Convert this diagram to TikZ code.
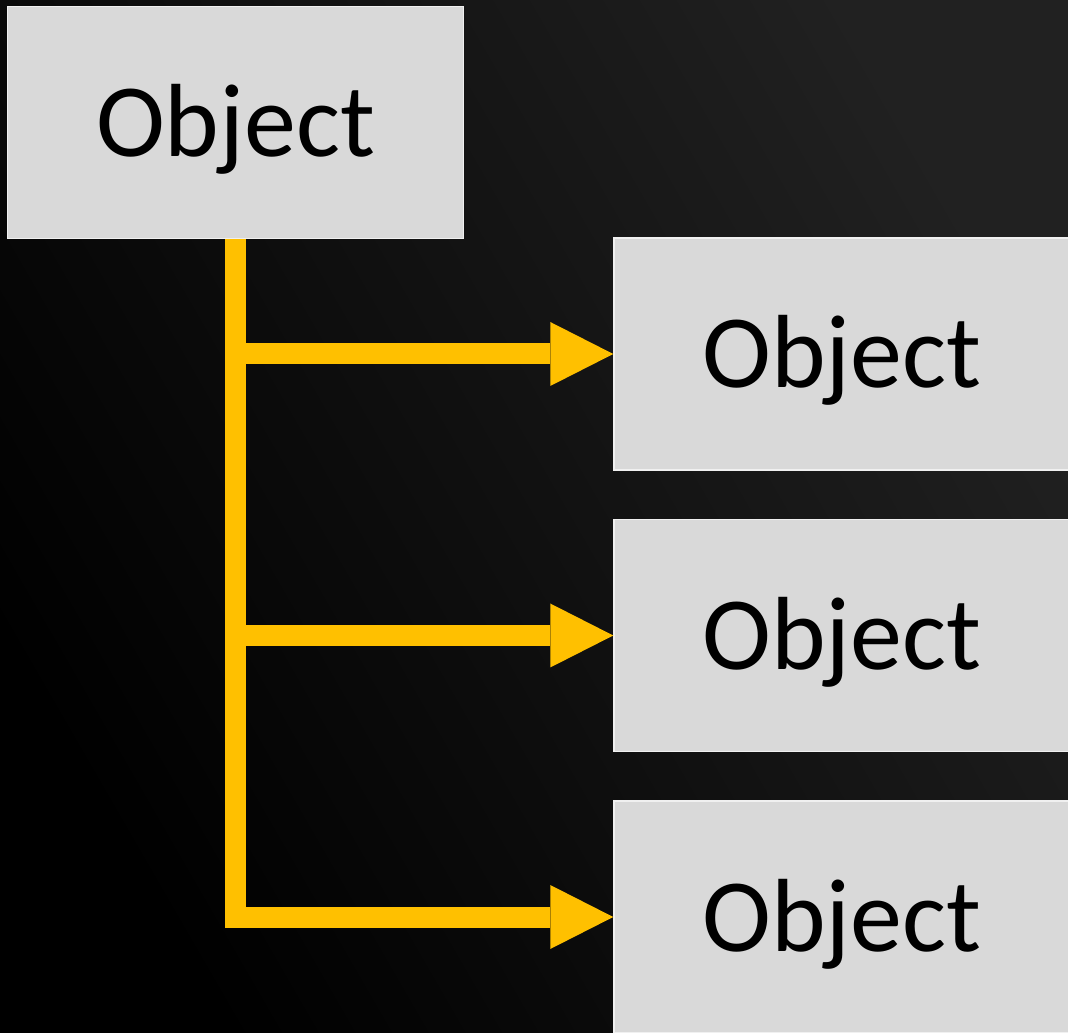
\documentclass[tikz,border=0pt]{standalone}
\usepackage{fontspec}
\setmainfont{Carlito}
\usepackage{tikz}
\usetikzlibrary{arrows.meta,positioning}

\definecolor{boxgray}{HTML}{D9D9D9}
\definecolor{boxedge}{HTML}{F0F0F0}
\definecolor{linkyellow}{HTML}{FFC000}
\definecolor{bgtop}{HTML}{212121}

\begin{document}
\begin{tikzpicture}[objbox/.style={rectangle, fill=boxgray, draw=boxedge, line width=0.75pt, minimum width=228pt, minimum height=116pt, inner sep=0pt, font=\fontsize{52pt}{62pt}\selectfont, text height=34pt, text depth=0pt}, link/.style={draw=linkyellow, line width=10.5pt, -{Triangle[length=31.5pt, width=32pt, line width=0pt]}}, node distance=24pt]
    % Background
    \shade [bottom color=black, top color=bgtop, shading angle=-60] (0,0) rectangle (534pt,516pt);
    \useasboundingbox (0,0) rectangle (534pt,516pt);

    % Nodes {o0, o1, o2, o3}
    \node [objbox] (o0) at (117.75pt,454.75pt) {Object};
    \node [objbox] (o1) [below right=-1pt and 74.5pt of o0] {Object};
    \node [objbox] (o2) [below=of o1] {Object};
    \node [objbox] (o3) [below=of o2] {Object};

    % Paths
    \path [link] (o0.south) |- (o1.west);
    \path [link] (o0.south) |- (o2.west);
    \path [link] (o0.south) |- (o3.west);

\end{tikzpicture}
\end{document}
